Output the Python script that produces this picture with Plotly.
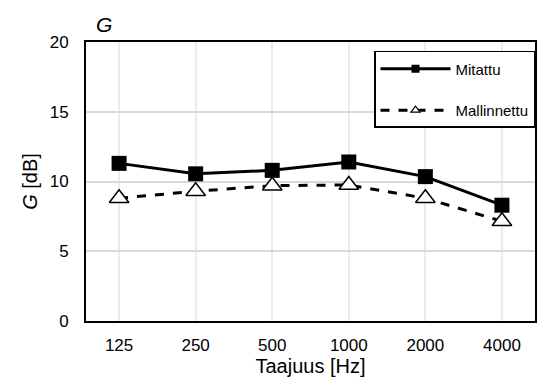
import plotly.graph_objects as go

freqs = ["125", "250", "500", "1000", "2000", "4000"]
mitattu = [11.3, 10.55, 10.8, 11.4, 10.35, 8.3]
mallinnettu = [8.8, 9.3, 9.7, 9.75, 8.8, 7.15]

FONT = "Liberation Sans, Arial, sans-serif"

fig = go.Figure()
fig.add_trace(go.Scatter(
    x=freqs, y=mitattu, mode="lines+markers", showlegend=False,
    line=dict(color="black", width=3),
    marker=dict(symbol="square", size=15, color="black")))
fig.add_trace(go.Scatter(
    x=freqs, y=mallinnettu, mode="lines+markers", showlegend=False,
    line=dict(color="black", width=3, dash="dash"),
    marker=dict(symbol="triangle-up", size=17, color="white",
                line=dict(color="black", width=1.5))))
# legend entries with small markers
fig.add_trace(go.Scatter(
    x=[None], y=[None], mode="lines+markers", name="Mitattu", legendgroup="a",
    line=dict(color="black", width=3),
    marker=dict(symbol="square", size=8, color="black")))
fig.add_trace(go.Scatter(
    x=[None], y=[None], mode="lines+markers", name="Mallinnettu", legendgroup="b",
    line=dict(color="black", width=3, dash="dash"),
    marker=dict(symbol="triangle-up", size=8, color="white",
                line=dict(color="black", width=1.2))))

fig.update_layout(
    width=538, height=378,
    margin=dict(l=86, r=1, t=42, b=57),
    paper_bgcolor="white", plot_bgcolor="white",
    font=dict(family=FONT, size=17, color="black"),
    showlegend=True,
    legend=dict(x=1.0, xanchor="right", y=0.968, yanchor="top",
                bordercolor="black", borderwidth=1.5, bgcolor="white",
                font=dict(size=15), tracegroupgap=19, itemwidth=70,
                traceorder="grouped"),
    xaxis=dict(type="category", showgrid=True, gridcolor="#ebebeb", gridwidth=1.5,
               showline=True, linecolor="black", linewidth=2, mirror=True,
               ticks="", tickfont=dict(size=17), ticklabelstandoff=8,
               title=dict(text="Taajuus [Hz]", font=dict(size=20), standoff=4)),
    yaxis=dict(range=[0, 20], dtick=5, showgrid=True, gridcolor="#d9d9d9", gridwidth=2,
               showline=True, linecolor="black", linewidth=2, mirror=True,
               zeroline=False, ticks="", tickfont=dict(size=17), ticklabelstandoff=12,
               title=dict(text="<i>G</i> [dB]", font=dict(size=20), standoff=7)),
    annotations=[dict(text="<i>G</i>", x=(104 - 86) / 451, y=1 + (42 - 24) / 279,
                      xref="paper", yref="paper", xanchor="center", yanchor="middle",
                      showarrow=False, font=dict(size=21))],
)
fig.write_html("out.html")
